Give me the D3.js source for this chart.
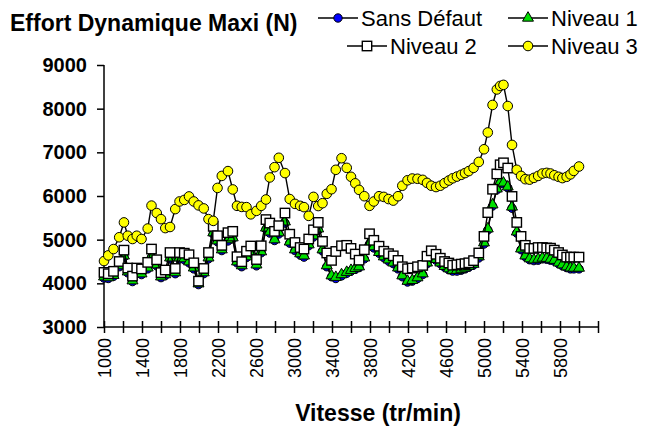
<!DOCTYPE html>
<html><head><meta charset="utf-8">
<script src="https://cdn.jsdelivr.net/npm/d3@7"></script>
<style>body{margin:0;background:#fff}svg{display:block}text{font-family:"Liberation Sans",Arial,sans-serif}</style>
</head><body><svg id="c" width="656" height="432"></svg>
<script>
const speeds = [1000,1045,1100,1160,1210,1250,1300,1345,1395,1460,
1500,1555,1600,1645,1695,1750,1795,1845,1895,1945,
1995,2050,2100,2150,2195,2240,2305,2355,2400,2450,
2500,2545,2605,2655,2705,2745,2795,2840,2905,2955,
3010,3065,3105,3155,3205,3255,3300,3345,3395,3440,
3500,3555,3600,3645,3685,3740,3795,3840,3895,3945,
3995,4045,4095,4140,4195,4245,4300,4355,4400,4445,
4495,4540,4585,4630,4670,4715,4760,4800,4840,4890,
4945,5000,5040,5090,5135,5170,5205,5250,5295,5345,
5390,5435,5480,5525,5570,5615,5660,5700,5740,5785,
5825,5870,5910,5945,6000];
const sansDefaut = [4120,4110,4160,4380,4600,4240,4040,4220,4200,4330,
4600,4400,4130,4180,4560,4220,4560,4540,4470,4330,
3970,4220,4560,5130,4950,4750,4970,5020,4470,4380,
4590,4700,4400,4700,5240,5150,4980,5130,5380,4920,
4750,4650,4600,4860,5060,5220,4740,4380,4150,4110,
4170,4230,4280,4320,4360,4560,4900,4810,4690,4590,
4510,4450,4330,4150,4030,4050,4110,4200,4450,4590,
4530,4450,4370,4310,4280,4280,4300,4330,4370,4420,
4580,4900,5220,5770,6140,6300,6280,6190,5720,5150,
4770,4610,4540,4520,4530,4560,4550,4530,4510,4450,
4400,4360,4330,4330,4330];
const niveau1 = [4150,4130,4185,4405,4630,4265,4060,4245,4220,4355,
4630,4425,4150,4200,4585,4245,4585,4565,4495,4355,
3990,4245,4585,5160,4975,4770,5000,5045,4495,4405,
4610,4725,4425,4725,5270,5180,5000,5160,5410,4950,
4770,4680,4630,4885,5090,5250,4770,4405,4175,4140,
4200,4255,4300,4345,4380,4585,4930,4840,4710,4610,
4540,4470,4355,4175,4050,4070,4130,4220,4470,4610,
4550,4470,4390,4335,4300,4300,4325,4355,4390,4440,
4610,4930,5250,5800,6165,6325,6300,6210,5750,5180,
4790,4630,4565,4540,4555,4580,4575,4555,4530,4470,
4425,4380,4355,4350,4350];
const niveau2 = [4250,4220,4275,4500,4760,4350,4165,4350,4330,4480,
4785,4540,4245,4305,4705,4340,4705,4690,4655,4470,
4050,4340,4705,5305,5090,4870,5160,5190,4610,4495,
4735,4855,4545,4860,5460,5380,5190,5320,5610,5125,
4935,4820,4785,5015,5225,5395,4960,4695,4525,4730,
4860,4870,4800,4670,4530,4770,5135,4985,4850,4735,
4680,4630,4525,4380,4335,4350,4380,4410,4620,4745,
4665,4575,4500,4465,4415,4425,4440,4450,4470,4520,
4695,5075,5620,6155,6505,6715,6760,6640,5990,5395,
5075,4870,4800,4800,4820,4820,4810,4805,4760,4705,
4650,4600,4600,4600,4600];
const niveau3 = [4510,4640,4785,5055,5395,5090,5015,5090,5015,5255,
5780,5610,5470,5265,5290,5700,5875,5910,5990,5875,
5785,5715,5470,5430,6185,6460,6570,6150,5775,5750,
5745,5580,5660,5775,5920,6425,6660,6875,6525,5930,
5820,5775,5745,5545,5980,5770,5835,6050,6155,6600,
6865,6645,6440,6290,6140,5995,5775,5875,5995,5980,
5930,5895,5995,6235,6360,6400,6395,6370,6300,6235,
6205,6235,6295,6355,6405,6445,6485,6525,6570,6645,
6780,7070,7455,8085,8440,8520,8545,8060,7170,6600,
6460,6385,6375,6415,6460,6515,6530,6515,6475,6440,
6410,6440,6495,6575,6675];
const yTicks = [3000,4000,5000,6000,7000,8000,9000];
const xLabels = [1000,1400,1800,2200,2600,3000,3400,3800,4200,4600,5000,5400,5800];
const seriesNames = ["Sans Défaut","Niveau 1","Niveau 2","Niveau 3"];

const svg = d3.select("#c");
svg.append("rect").attr("width",656).attr("height",432).attr("fill","#fff");
const x = d3.scaleLinear().domain([1000,6200]).range([104,598]);
const y = d3.scaleLinear().domain([3000,9000]).range([327,65]);

// Y axis
const yAx = svg.append("g").attr("transform","translate(104,0)")
  .call(d3.axisLeft(y).tickValues(yTicks).tickSize(7).tickPadding(10).tickFormat(d3.format("d")));
yAx.select(".domain").attr("stroke","#000").attr("stroke-width",1.5).attr("d","M0,65V327");
yAx.selectAll(".tick line").attr("stroke","#000").attr("stroke-width",1.5);
yAx.selectAll(".tick text").attr("fill","#000").style("font-size","20px").style("font-weight","bold")
  .style("font-family","'Liberation Sans',Arial,sans-serif");

// X axis
const xTicks = d3.range(1000,6201,200);
const xAx = svg.append("g").attr("transform","translate(0,327)")
  .call(d3.axisBottom(x).tickValues(xTicks).tickSize(6).tickFormat(d => xLabels.includes(d) ? d : ""));
xAx.select(".domain").attr("stroke","#000").attr("stroke-width",1.5).attr("d","M104,0H598");
xAx.selectAll(".tick line").attr("stroke","#000").attr("stroke-width",1.5).attr("y1",-6).attr("y2",6);
xAx.selectAll(".tick text").attr("fill","#000").style("font-size","18px").style("font-weight","normal")
  .style("font-family","'Liberation Sans',Arial,sans-serif")
  .attr("transform","rotate(-90)").attr("text-anchor","end").attr("x",-11).attr("y",0).attr("dy","0.35em");

// lines
const line = d3.line().x((d,i)=>x(speeds[i])).y(d=>y(d));
const data = [sansDefaut, niveau1, niveau2, niveau3];
function marker(g, k, cx, cy){
  if(k===0) g.append("circle").attr("cx",cx).attr("cy",cy).attr("r",4.2).attr("fill","#0000ff").attr("stroke","#000").attr("stroke-width",1);
  else if(k===1) g.append("path").attr("d",d3.symbol(d3.symbolTriangle,52)()).attr("transform",`translate(${cx},${cy})`).attr("fill","#00e000").attr("stroke","#000").attr("stroke-width",1);
  else if(k===2) g.append("rect").attr("x",cx-4.7).attr("y",cy-4.7).attr("width",9.4).attr("height",9.4).attr("fill","#fff").attr("stroke","#000").attr("stroke-width",1.4);
  else g.append("circle").attr("cx",cx).attr("cy",cy).attr("r",4.8).attr("fill","#ffff00").attr("stroke","#000").attr("stroke-width",1);
}
data.forEach((arr,k)=>{
  const g = svg.append("g");
  g.append("path").datum(arr).attr("d",line).attr("fill","none").attr("stroke","#000").attr("stroke-width",1.4);
  arr.forEach((v,i)=>marker(g,k,x(speeds[i]),y(v)));
});

// titles
svg.append("text").attr("x",10).attr("y",31).text("Effort Dynamique Maxi (N)")
  .style("font-size","23px").style("font-weight","bold");
svg.append("text").attr("x",378).attr("y",421).attr("text-anchor","middle").text("Vitesse (tr/min)")
  .style("font-size","23px").style("font-weight","bold");

// legend
const leg = [
  {k:0,x1:318,x2:358,y:18,tx:361},
  {k:1,x1:508,x2:548,y:18,tx:551},
  {k:2,x1:347,x2:387,y:46,tx:390},
  {k:3,x1:508,x2:548,y:46,tx:551}
];
leg.forEach(l=>{
  const g = svg.append("g");
  g.append("line").attr("x1",l.x1).attr("x2",l.x2).attr("y1",l.y).attr("y2",l.y).attr("stroke","#000").attr("stroke-width",1.4);
  marker(g,l.k,(l.x1+l.x2)/2,l.y);
  g.append("text").attr("x",l.tx).attr("y",l.y).attr("dy","0.36em").text(seriesNames[l.k]).style("font-size","22px");
});
</script></body></html>
